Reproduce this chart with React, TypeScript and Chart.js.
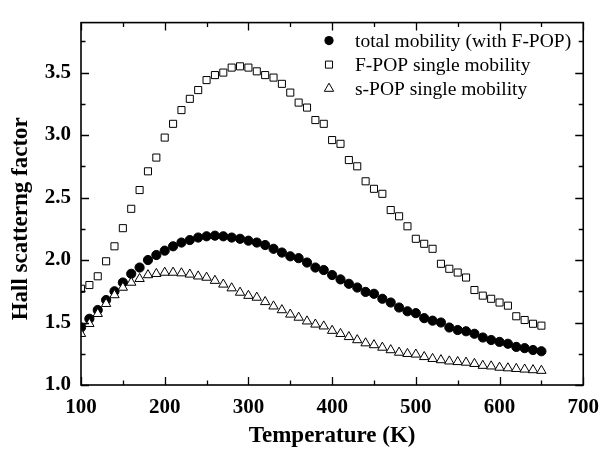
import React, { useEffect, useRef } from "react";
import { Chart, registerables } from "chart.js";

Chart.register(...registerables);

const temperatures = [
  100, 110, 120, 130, 140, 150, 160, 170, 180, 190,
  200, 210, 220, 230, 240, 250, 260, 270, 280, 290,
  300, 310, 320, 330, 340, 350, 360, 370, 380, 390,
  400, 410, 420, 430, 440, 450, 460, 470, 480, 490,
  500, 510, 520, 530, 540, 550, 560, 570, 580, 590,
  600, 610, 620, 630, 640, 650,
];

const totalMobility = [
  1.46, 1.53, 1.6, 1.68, 1.75, 1.82, 1.89, 1.94, 2.0, 2.04,
  2.075, 2.11, 2.14, 2.16, 2.18, 2.19, 2.195, 2.19, 2.18, 2.17,
  2.155, 2.14, 2.12, 2.09, 2.06, 2.03, 2.015, 1.98, 1.94, 1.92,
  1.88, 1.845, 1.81, 1.78, 1.745, 1.73, 1.69, 1.66, 1.62, 1.59,
  1.575, 1.535, 1.515, 1.5, 1.46, 1.44, 1.43, 1.41, 1.38, 1.36,
  1.345, 1.33, 1.305, 1.295, 1.28, 1.27,
];

const fPopSingle = [
  1.77, 1.8, 1.87, 1.99, 2.11, 2.255, 2.41, 2.56, 2.71, 2.82,
  2.98, 3.09, 3.2, 3.29, 3.36, 3.44, 3.48, 3.5, 3.54, 3.55,
  3.54, 3.51, 3.48, 3.46, 3.41, 3.34, 3.26, 3.22, 3.12, 3.09,
  2.96, 2.93, 2.8, 2.75, 2.63, 2.57, 2.53, 2.4, 2.35, 2.27,
  2.17, 2.13, 2.09, 1.97, 1.93, 1.9, 1.86, 1.76, 1.715, 1.69,
  1.66, 1.635, 1.55, 1.52, 1.49, 1.475,
];

const sPopSingle = [
  1.41, 1.49, 1.57, 1.65, 1.72, 1.78, 1.82, 1.85, 1.88, 1.89,
  1.9, 1.9, 1.895, 1.885, 1.87, 1.86, 1.835, 1.805, 1.775, 1.74,
  1.715, 1.7, 1.665, 1.63, 1.6, 1.565, 1.54, 1.51, 1.485, 1.47,
  1.435, 1.41, 1.385, 1.36, 1.335, 1.32, 1.3, 1.28, 1.26, 1.25,
  1.245, 1.225, 1.21, 1.2, 1.19, 1.185, 1.18, 1.17, 1.155, 1.15,
  1.14, 1.135, 1.13, 1.125, 1.12, 1.115,
];

const xTickValues = [100, 200, 300, 400, 500, 600, 700];
const yTickValues = [1.0, 1.5, 2.0, 2.5, 3.0, 3.5];
const seriesLabels = [
  "total mobility (with F-POP)",
  "F-POP single mobility",
  "s-POP single mobility",
];
const xTitle = "Temperature (K)";
const yTitle = "Hall scatterng factor";

const SERIF = '"Liberation Serif", "Times New Roman", Times, serif';

function drawMarker(ctx: CanvasRenderingContext2D, style: string, x: number, y: number, r: number) {
  ctx.beginPath();
  if (style === "circle") {
    ctx.arc(x, y, r, 0, Math.PI * 2);
    ctx.fillStyle = "#000";
    ctx.fill();
  } else if (style === "rect") {
    const s = r * Math.SQRT1_2;
    ctx.rect(x - s, y - s, 2 * s, 2 * s);
    ctx.fillStyle = "#fff";
    ctx.fill();
    ctx.stroke();
  } else {
    ctx.moveTo(x, y - r);
    ctx.lineTo(x + r * Math.sin(Math.PI / 3), y + r / 2);
    ctx.lineTo(x - r * Math.sin(Math.PI / 3), y + r / 2);
    ctx.closePath();
    ctx.fillStyle = "#fff";
    ctx.fill();
    ctx.stroke();
  }
}

const framePlugin = {
  id: "frameTicksLegend",
  afterDraw(chart: any) {
    const { ctx, chartArea, scales } = chart;
    const { left, right, top, bottom } = chartArea;
    const xs = scales.x;
    const ys = scales.y;
    ctx.save();
    ctx.strokeStyle = "#000";
    ctx.lineWidth = 1.6;
    ctx.strokeRect(left, top, right - left, bottom - top);

    const major = 8;
    const minor = 4.5;
    ctx.lineWidth = 1.3;
    // x ticks
    const xMarks: { v: number; len: number }[] = [];
    xTickValues.forEach((v, i) => {
      xMarks.push({ v, len: major });
      if (i < xTickValues.length - 1) xMarks.push({ v: (v + xTickValues[i + 1]) / 2, len: minor });
    });
    xMarks.forEach(({ v, len }) => {
      const px = Math.round(xs.getPixelForValue(v)) + 0.5;
      ctx.beginPath();
      ctx.moveTo(px, bottom);
      ctx.lineTo(px, bottom - len);
      ctx.moveTo(px, top);
      ctx.lineTo(px, top + len);
      ctx.stroke();
    });
    // y ticks
    const yMarks: { v: number; len: number }[] = [];
    yTickValues.forEach((v, i) => {
      yMarks.push({ v, len: major });
      const next = i < yTickValues.length - 1 ? yTickValues[i + 1] : v + 0.5;
      const mid = (v + next) / 2;
      if (mid < ys.max) yMarks.push({ v: mid, len: minor });
    });
    yMarks.forEach(({ v, len }) => {
      const py = Math.round(ys.getPixelForValue(v)) + 0.5;
      ctx.beginPath();
      ctx.moveTo(left, py);
      ctx.lineTo(left + len, py);
      ctx.moveTo(right, py);
      ctx.lineTo(right - len, py);
      ctx.stroke();
    });

    // y axis title
    ctx.save();
    ctx.translate(21, (top + bottom) / 2 + 15);
    ctx.rotate(-Math.PI / 2);
    ctx.fillStyle = "#000";
    ctx.font = `bold 23px ${SERIF}`;
    ctx.textAlign = "center";
    ctx.textBaseline = "middle";
    ctx.fillText(yTitle, 0, 0);
    ctx.restore();

    // legend
    const styles = ["circle", "rect", "triangle"];
    const radii = [4.6, 5, 5.4];
    const mx = left + 248;
    const tx = left + 274;
    ctx.lineWidth = 1;
    ctx.font = `19.5px ${SERIF}`;
    ctx.textBaseline = "middle";
    ctx.textAlign = "left";
    seriesLabels.forEach((label, i) => {
      const cy = top + 18 + i * 24;
      ctx.strokeStyle = "#000";
      drawMarker(ctx, styles[i], mx, cy, radii[i]);
      ctx.fillStyle = "#000";
      ctx.fillText(label, tx, cy + 1);
    });
    ctx.restore();
  },
};

export default function App() {
  const canvasRef = useRef<HTMLCanvasElement | null>(null);

  useEffect(() => {
    document.body.style.margin = "0";
    document.body.style.overflow = "hidden";
    const canvas = canvasRef.current;
    if (!canvas) return;

    const pts = (ys: number[]) => temperatures.map((t, i) => ({ x: t, y: ys[i] }));

    const chart = new Chart(canvas, {
      type: "scatter",
      data: {
        datasets: [
          {
            label: seriesLabels[0],
            data: pts(totalMobility),
            pointStyle: "circle",
            pointRadius: 4.6,
            backgroundColor: "#000",
            borderColor: "#000",
            borderWidth: 1,
            showLine: false,
            order: 3,
          },
          {
            label: seriesLabels[1],
            data: pts(fPopSingle),
            pointStyle: "rect",
            pointRadius: 5,
            backgroundColor: "#fff",
            borderColor: "#000",
            borderWidth: 1,
            showLine: false,
            order: 2,
          },
          {
            label: seriesLabels[2],
            data: pts(sPopSingle),
            pointStyle: "triangle",
            pointRadius: 5.4,
            backgroundColor: "#fff",
            borderColor: "#000",
            borderWidth: 1,
            showLine: false,
            order: 1,
          },
        ],
      },
      options: {
        responsive: false,
        animation: false,
        layout: { padding: { top: 9, right: 17, left: 0, bottom: 0 } },
        plugins: {
          legend: { display: false },
          tooltip: { enabled: false },
        },
        scales: {
          x: {
            type: "linear",
            min: 100,
            max: 700,
            afterBuildTicks: (s: any) => {
              s.ticks = xTickValues.map((v) => ({ value: v }));
            },
            afterFit: (s: any) => {
              s.height = 68;
            },
            grid: { display: false, drawTicks: false },
            border: { display: false },
            ticks: {
              color: "#000",
              padding: 10,
              maxRotation: 0,
              autoSkip: false,
              font: { family: SERIF, size: 21, weight: "bold" },
              callback: (v: any) => String(v),
            },
            title: {
              display: true,
              text: xTitle,
              color: "#000",
              font: { family: SERIF, size: 23, weight: "bold" },
              padding: { top: 0, bottom: 3 },
            },
          },
          y: {
            type: "linear",
            min: 1.0,
            max: 3.9,
            afterBuildTicks: (s: any) => {
              s.ticks = yTickValues.map((v) => ({ value: v }));
            },
            afterFit: (s: any) => {
              s.width = 81;
            },
            grid: { display: false, drawTicks: false },
            border: { display: false },
            ticks: {
              color: "#000",
              padding: 10,
              autoSkip: false,
              font: { family: SERIF, size: 21, weight: "bold" },
              callback: (v: any) => Number(v).toFixed(1),
            },
          },
        },
      },
      plugins: [framePlugin],
    } as any);

    return () => chart.destroy();
  }, []);

  return (
    <canvas
      ref={canvasRef}
      width={609}
      height={453}
      style={{ display: "block", width: 609, height: 453 }}
    />
  );
}
